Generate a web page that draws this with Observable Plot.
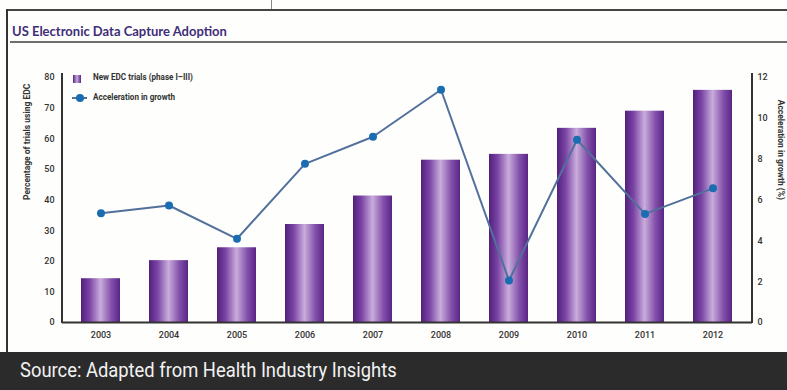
<!DOCTYPE html>
<html>
<head>
<meta charset="utf-8">
<script src="https://cdn.jsdelivr.net/npm/d3@7"></script>
<script src="https://cdn.jsdelivr.net/npm/@observablehq/plot@0.6"></script>
<style>
  html, body { margin: 0; padding: 0; background: #fff; }
  #page { position: relative; width: 787px; height: 390px; overflow: hidden; background: #fefefc; }
  .abs { position: absolute; }
  #title { left: 12px; top: 23px; font-family: Lato, sans-serif; font-weight: 700; font-size: 13px; color: #3e2d78; white-space: nowrap; }
  #footer { left: 0; top: 352px; width: 787px; height: 38px; background: #2b2b2b; }
  #footer span { position: absolute; left: 20px; top: 6px; font-family: Roboto, sans-serif; font-size: 21px; color: #f2f2f2; white-space: nowrap; transform: scaleX(0.875); transform-origin: 0 0; }
  .leg { font-family: Roboto, sans-serif; font-size: 9px; font-weight: 700; color: #333; white-space: nowrap; transform: scaleX(0.9); transform-origin: 0 0; }
  #chart { left: 0; top: 50px; }
</style>
</head>
<body>
<div id="page">
  <div class="abs" style="left:271px;top:0;width:1px;height:9px;background:#888"></div>
  <div class="abs" style="left:6px;top:9px;width:781px;height:2px;background:#444"></div>
  <div class="abs" style="left:6px;top:9px;width:2px;height:343px;background:#333"></div>
  <div class="abs" id="title">US Electronic Data Capture Adoption</div>
  <div class="abs" style="left:10px;top:41px;width:777px;height:2px;background:#6e6e6e"></div>
  <div class="abs" id="chart"></div>
  <div class="abs" style="left:73px;top:75px;width:8px;height:8px;background:linear-gradient(to right,#55207f,#c8a9dc,#5a2485)"></div>
  <div class="abs leg" style="left:93px;top:72px">New EDC trials (phase I–III)</div>
  <div class="abs" style="left:72px;top:97px;width:15px;height:2px;background:#52709c"></div>
  <div class="abs" style="left:76px;top:94px;width:8px;height:8px;border-radius:50%;background:#1a6db0"></div>
  <div class="abs leg" style="left:93px;top:92px">Acceleration in growth</div>
  <div class="abs" id="footer"><span>Source: Adapted from Health Industry Insights</span></div>
</div>
<script>
const years = ["2003", "2004", "2005", "2006", "2007", "2008", "2009", "2010", "2011", "2012"];
const edcTrials = [14.3, 20.2, 24.4, 32.0, 41.3, 53.0, 54.9, 63.4, 69.0, 75.8];
const acceleration = [5.35, 5.73, 4.1, 7.77, 9.1, 11.4, 2.06, 8.95, 5.32, 6.57];
const leftTicks = [0, 10, 20, 30, 40, 50, 60, 70, 80];
const rightTicks = [0, 2, 4, 6, 8, 10, 12];
const leftMax = 80, rightMax = 12;
const leftLabel = "Percentage of trials using EDC";
const rightLabel = "Acceleration in growth (%)";

const toLeft = v => v * leftMax / rightMax;
const bars = years.map((year, i) => ({year, value: edcTrials[i]}));
const accel = years.map((year, i) => ({year, value: toLeft(acceleration[i])}));

const font = 'Roboto, sans-serif';

const defs = () => {
  const ns = "http://www.w3.org/2000/svg";
  const d = document.createElementNS(ns, "defs");
  const g = document.createElementNS(ns, "linearGradient");
  g.setAttribute("id", "barGrad");
  g.setAttribute("x1", "0"); g.setAttribute("x2", "1"); g.setAttribute("y1", "0"); g.setAttribute("y2", "0");
  [[0, "#52207c"], [0.22, "#7a44a4"], [0.5, "#c9acdc"], [0.78, "#8250aa"], [1, "#5a2485"]].forEach(([o, c]) => {
    const s = document.createElementNS(ns, "stop");
    s.setAttribute("offset", o); s.setAttribute("stop-color", c);
    g.appendChild(s);
  });
  d.appendChild(g);
  return d;
};

const axisLines = (index, scales, values, dim) => {
  const ns = "http://www.w3.org/2000/svg";
  const g = document.createElementNS(ns, "g");
  const x0 = dim.marginLeft, x1 = dim.width - dim.marginRight;
  const yTop = scales.y(leftMax) - 4, yBot = scales.y(0) + 1;
  [[x0, x0], [x1, x1]].forEach(([a, b]) => {
    const l = document.createElementNS(ns, "line");
    l.setAttribute("x1", a); l.setAttribute("x2", b);
    l.setAttribute("y1", yTop); l.setAttribute("y2", yBot);
    l.setAttribute("stroke", "#333"); l.setAttribute("stroke-width", 2);
    g.appendChild(l);
  });
  return g;
};

const chart = Plot.plot({
  width: 787,
  height: 300,
  marginLeft: 62,
  marginRight: 35,
  marginTop: 27,
  marginBottom: 28,
  style: {fontFamily: font, fontSize: "9px", color: "#333", background: "transparent"},
  x: {type: "band", domain: years, paddingInner: 0.42, paddingOuter: 0.235, axis: null},
  y: {domain: [0, leftMax], axis: null},
  marks: [
    defs,
    Plot.barY(bars, {x: "year", y: "value", fill: "url(#barGrad)"}),
    Plot.ruleY([0], {stroke: "#333", strokeWidth: 2}),
    axisLines,
    Plot.line(accel, {x: "year", y: "value", stroke: "#52709c", strokeWidth: 2}),
    Plot.dot(accel, {x: "year", y: "value", r: 4, fill: "#1a6db0"}),
    Plot.axisY({anchor: "left", ticks: leftTicks, tickSize: 0, tickPadding: 8, label: null, fill: "#333", fontWeight: 500}),
    Plot.axisY({anchor: "right", ticks: rightTicks.map(toLeft), tickFormat: d => Math.round(d * rightMax / leftMax), tickSize: 0, tickPadding: 5, label: null, fill: "#333", fontWeight: 500}),
    Plot.axisX({anchor: "bottom", tickSize: 0, tickPadding: 9, label: null, fill: "#333", fontWeight: 500}),
    Plot.text([leftLabel], {frameAnchor: "left", dx: -35, rotate: -90, fontSize: 8.5, fontWeight: 700, fill: "#333"}),
    Plot.text([rightLabel], {frameAnchor: "right", dx: 28, rotate: 90, fontSize: 8.5, fontWeight: 700, fill: "#333"})
  ]
});
document.getElementById("chart").appendChild(chart);
</script>
</body>
</html>
